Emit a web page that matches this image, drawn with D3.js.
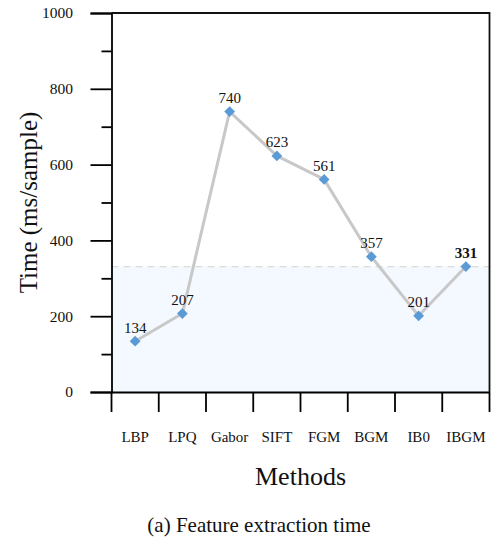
<!DOCTYPE html>
<html>
<head>
<meta charset="utf-8">
<script src="https://cdn.jsdelivr.net/npm/d3@7"></script>
<style>
  body { margin: 0; background: #fff; }
  svg { display: block; font-family: "Liberation Serif", "Times New Roman", serif; }
</style>
</head>
<body>
<div id="chart"></div>
<script>
// chart data
const methods = ['LBP', 'LPQ', 'Gabor', 'SIFT', 'FGM', 'BGM', 'IB0', 'IBGM'];
const times = [134, 207, 740, 623, 561, 357, 201, 331];
const yMajorTicks = [0, 200, 400, 600, 800, 1000];
const yMinorTicks = [100, 300, 500, 700, 900];
const highlight = 'IBGM';

const width = 493, height = 540;
const plotLeft = 111.5, plotRight = 489.5, plotTop = 13, plotBottom = 392;
const serif = '"Liberation Serif", "Times New Roman", serif';

const svg = d3.select('#chart').append('svg')
  .attr('width', width)
  .attr('height', height);

const x = d3.scaleBand().domain(methods).range([plotLeft, plotRight]).padding(0);
const y = d3.scaleLinear().domain([0, 1000]).range([plotBottom, plotTop]);

const refValue = times[methods.indexOf(highlight)];

// shaded band up to the highlighted value
svg.append('rect')
  .attr('x', plotLeft)
  .attr('y', y(refValue))
  .attr('width', plotRight - plotLeft)
  .attr('height', y(0) - y(refValue))
  .attr('fill', '#f3f9fe');

svg.append('line')
  .attr('x1', plotLeft).attr('x2', plotRight)
  .attr('y1', y(refValue)).attr('y2', y(refValue))
  .attr('stroke', '#dcdcdc')
  .attr('stroke-width', 1.2)
  .attr('stroke-dasharray', '7,5');

// frame
svg.append('path')
  .attr('d', `M${plotLeft},${plotTop}H${plotRight}V${plotBottom}`)
  .attr('fill', 'none')
  .attr('stroke', '#111')
  .attr('stroke-width', 1.8);

// y axis, major + minor ticks
const yAxis = svg.append('g')
  .attr('transform', `translate(${plotLeft},0)`)
  .call(d3.axisLeft(y).tickValues(yMajorTicks).tickFormat(d3.format('d')).tickSize(21).tickPadding(17.5))
  .attr('font-family', serif)
  .attr('font-size', 15.5);
yAxis.select('.domain').attr('stroke', '#000').attr('stroke-width', 1.8);
yAxis.selectAll('.tick line').attr('stroke', '#000').attr('stroke-width', 1.8);
yAxis.selectAll('text').attr('fill', '#111');

const yMinor = svg.append('g')
  .attr('transform', `translate(${plotLeft},0)`)
  .call(d3.axisLeft(y).tickValues(yMinorTicks).tickSize(10).tickFormat(''));
yMinor.select('.domain').remove();
yMinor.selectAll('.tick line').attr('stroke', '#000').attr('stroke-width', 1.8);

// x axis: labels at band centres, ticks at band edges
const xAxis = svg.append('g')
  .attr('transform', `translate(0,${plotBottom})`)
  .call(d3.axisBottom(x).tickSize(0).tickPadding(39))
  .attr('font-family', serif)
  .attr('font-size', 15);
xAxis.select('.domain').attr('stroke', '#000').attr('stroke-width', 1.8);
xAxis.selectAll('text').attr('fill', '#111');

const edges = methods.map(d => x(d)).concat([x(methods[methods.length - 1]) + x.bandwidth()]);
svg.append('g').selectAll('line')
  .data(edges)
  .enter().append('line')
  .attr('x1', d => d).attr('x2', d => d)
  .attr('y1', plotBottom).attr('y2', plotBottom + 20)
  .attr('stroke', '#000')
  .attr('stroke-width', 1.8);

// series line
const line = d3.line()
  .x((d, i) => x(methods[i]) + x.bandwidth() / 2)
  .y(d => y(d));

svg.append('path')
  .datum(times)
  .attr('d', line)
  .attr('fill', 'none')
  .attr('stroke', '#c8c8c8')
  .attr('stroke-width', 3)
  .attr('stroke-linejoin', 'round');

// diamond markers
const diamond = d3.symbol().type(d3.symbolSquare).size(58);
svg.append('g').selectAll('path')
  .data(times)
  .enter().append('path')
  .attr('d', diamond)
  .attr('transform', (d, i) => `translate(${x(methods[i]) + x.bandwidth() / 2},${y(d)}) rotate(45)`)
  .attr('fill', '#5b9bd5');

// value labels
svg.append('g').selectAll('text')
  .data(times)
  .enter().append('text')
  .attr('x', (d, i) => x(methods[i]) + x.bandwidth() / 2)
  .attr('y', d => y(d) - 8.5)
  .attr('text-anchor', 'middle')
  .style('font-size', '15px')
  .style('font-weight', (d, i) => methods[i] === highlight ? 'bold' : 'normal')
  .attr('fill', '#111')
  .text(d => d);

// axis titles
svg.append('text')
  .attr('transform', `translate(37,${(plotTop + plotBottom) / 2}) rotate(-90)`)
  .attr('text-anchor', 'middle')
  .style('font-size', '25px')
  .attr('fill', '#111')
  .text('Time (ms/sample)');

svg.append('text')
  .attr('x', (plotLeft + plotRight) / 2)
  .attr('y', 485)
  .attr('text-anchor', 'middle')
  .style('font-size', '26px')
  .attr('fill', '#111')
  .text('Methods');

svg.append('text')
  .attr('x', 259)
  .attr('y', 531.5)
  .attr('text-anchor', 'middle')
  .style('font-size', '21px')
  .attr('fill', '#111')
  .text('(a) Feature extraction time');
</script>
</body>
</html>
